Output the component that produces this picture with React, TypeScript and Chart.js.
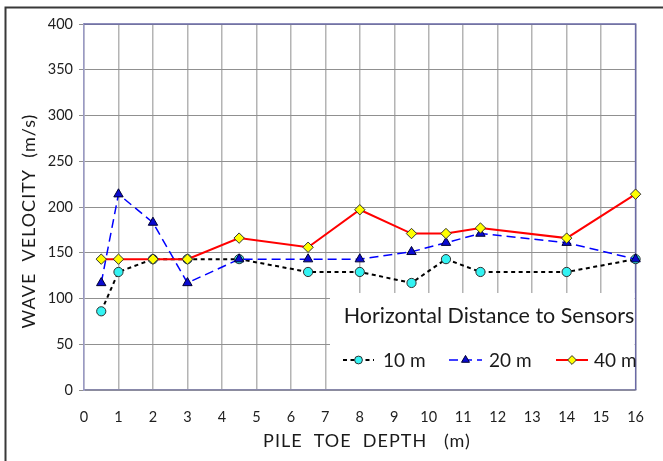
import React, { useEffect, useRef } from "react";
import { Chart, registerables } from "chart.js";

Chart.register(...registerables);

// ---- data ----
const depths = [0.5, 1, 2, 3, 4.5, 6.5, 8, 9.5, 10.5, 11.5, 14, 16];
const v10 = [86, 129, 143, 143, 143, 129, 129, 117, 143, 129, 129, 143];
const v20 = [117, 214, 183, 117, 143, 143, 143, 151, 161, 171, 161, 143];
const v40 = [143, 143, 143, 143, 166, 156, 197, 171, 171, 177, 166, 214];
const seriesLabels = ["10 m", "20 m", "40 m"];
const legendTitle = "Horizontal Distance to Sensors";
const xTitle = "PILE  TOE  DEPTH   (m)";
const yTitle = "WAVE  VELOCITY  (m/s)";
const xMin = 0;
const xMax = 16;
const xStep = 1;
const yMin = 0;
const yMax = 400;
const yStep = 50;

const FONT = "Lato, 'Open Sans', sans-serif";

const styles = [
  { line: "#000000", width: 2, dash: [4, 3.5], point: "circle", fill: "#33f3f3", border: "#303030", r: 4.6 },
  { line: "#0000ff", width: 1.5, dash: [9, 5], point: "triangle", fill: "#0a0ad0", border: "#000033", r: 5.4 },
  { line: "#ff0000", width: 2, dash: [] as number[], point: "rectRot", fill: "#ffff00", border: "#303030", r: 5.2 },
];

function drawMarker(ctx: CanvasRenderingContext2D, kind: string, x: number, y: number, r: number, fill: string, border: string) {
  ctx.save();
  ctx.setLineDash([]);
  ctx.beginPath();
  if (kind === "circle") {
    ctx.arc(x, y, r, 0, Math.PI * 2);
  } else if (kind === "triangle") {
    for (let i = 0; i < 3; i++) {
      const a = (i * 2 * Math.PI) / 3;
      const px = x + Math.sin(a) * r;
      const py = y - Math.cos(a) * r;
      if (i === 0) ctx.moveTo(px, py);
      else ctx.lineTo(px, py);
    }
    ctx.closePath();
  } else {
    ctx.moveTo(x, y - r);
    ctx.lineTo(x + r, y);
    ctx.lineTo(x, y + r);
    ctx.lineTo(x - r, y);
    ctx.closePath();
  }
  ctx.fillStyle = fill;
  ctx.fill();
  ctx.lineWidth = 1;
  ctx.strokeStyle = border;
  ctx.stroke();
  ctx.restore();
}

const decor = {
  id: "decor",
  beforeDraw(chart: any) {
    const { ctx, width, height } = chart;
    ctx.save();
    ctx.fillStyle = "#ffffff";
    ctx.fillRect(0, 0, width, height);
    ctx.strokeStyle = "#383838";
    ctx.lineWidth = 2;
    ctx.beginPath();
    ctx.moveTo(5.5, height);
    ctx.lineTo(5.5, 7.5);
    ctx.lineTo(width, 7.5);
    ctx.stroke();
    ctx.restore();
  },
  beforeDatasetsDraw(chart: any) {
    const { ctx, chartArea: a } = chart;
    ctx.save();
    ctx.strokeStyle = "#6a6aa6";
    ctx.lineWidth = 1.5;
    ctx.beginPath();
    ctx.moveTo(a.left, a.top);
    ctx.lineTo(a.right, a.top);
    ctx.lineTo(a.right, a.bottom);
    ctx.stroke();
    // legend box
    ctx.fillStyle = "#ffffff";
    ctx.fillRect(330, 293, a.right - 1 - 330, a.bottom - 1 - 293);
    ctx.restore();
  },
  afterDraw(chart: any) {
    const { ctx } = chart;
    ctx.save();
    ctx.fillStyle = "#1a1a1a";
    ctx.textAlign = "center";
    ctx.textBaseline = "middle";
    // legend title
    ctx.font = `21.5px ${FONT}`;
    ctx.fillText(legendTitle, 489, 316);
    // legend items
    const items = [
      { x0: 343, x1: 374, tx: 383 },
      { x0: 449, x1: 482, tx: 489 },
      { x0: 556, x1: 588, tx: 594 },
    ];
    ctx.font = `19px ${FONT}`;
    items.forEach((it, i) => {
      const s = styles[i];
      const y = 360;
      ctx.save();
      ctx.strokeStyle = s.line;
      ctx.lineWidth = s.width;
      ctx.setLineDash(s.dash);
      ctx.beginPath();
      ctx.moveTo(it.x0, y);
      ctx.lineTo(it.x1, y);
      ctx.stroke();
      ctx.restore();
      drawMarker(ctx, s.point, (it.x0 + it.x1) / 2, y, s.r * 0.85, s.fill, s.border);
      ctx.textAlign = "left";
      ctx.fillText(seriesLabels[i], it.tx, y + 1);
    });
    // axis titles
    ctx.textAlign = "center";
    ctx.font = `18px ${FONT}`;
    (ctx as any).letterSpacing = "1px";
    ctx.fillText(xTitle, 367, 441);
    ctx.translate(29, 221);
    ctx.rotate(-Math.PI / 2);
    ctx.fillText(yTitle, 0, 0);
    ctx.restore();
  },
};

export default function App() {
  const ref = useRef<HTMLCanvasElement | null>(null);
  useEffect(() => {
    if (!ref.current) return;
    const series = [v10, v20, v40];
    const chart = new Chart(ref.current, {
      type: "line",
      data: {
        datasets: series.map((vals, i) => ({
          label: seriesLabels[i],
          data: depths.map((d, j) => ({ x: d, y: vals[j] })),
          borderColor: styles[i].line,
          borderWidth: styles[i].width,
          borderDash: styles[i].dash,
          pointStyle: styles[i].point as any,
          pointRadius: styles[i].r,
          pointBackgroundColor: styles[i].fill,
          pointBorderColor: styles[i].border,
          pointBorderWidth: 1,
          tension: 0,
          fill: false,
          clip: false as any,
          order: 3 - i,
        })),
      },
      options: {
        responsive: false,
        animation: false,
        events: [],
        layout: { padding: { left: 0, right: 14, top: 24, bottom: 0 } },
        plugins: { legend: { display: false }, tooltip: { enabled: false } },
        scales: {
          x: {
            type: "linear",
            min: xMin,
            max: xMax,
            ticks: { stepSize: xStep, font: { family: FONT, size: 14.5 }, color: "#1e1e1e", padding: 19 },
            grid: { color: "#b4b4b4", lineWidth: 1.5, drawTicks: false },
            border: { color: "#8888aa", width: 1.5 },
            afterFit(s: any) {
              s.height = 71;
            },
          },
          y: {
            type: "linear",
            min: yMin,
            max: yMax,
            ticks: { stepSize: yStep, font: { family: FONT, size: 14.5 }, color: "#1e1e1e", padding: 6 },
            grid: { color: "#909090", lineWidth: 1, tickLength: 5 },
            border: { color: "#9a9ac4", width: 1.5 },
            afterFit(s: any) {
              s.width = 84;
            },
          },
        },
      },
      plugins: [decor],
    });
    return () => chart.destroy();
  }, []);
  return (
    <div style={{ position: "fixed", left: 0, top: 0 }}>
      <canvas ref={ref} width={663} height={461} style={{ display: "block" }} />
    </div>
  );
}
